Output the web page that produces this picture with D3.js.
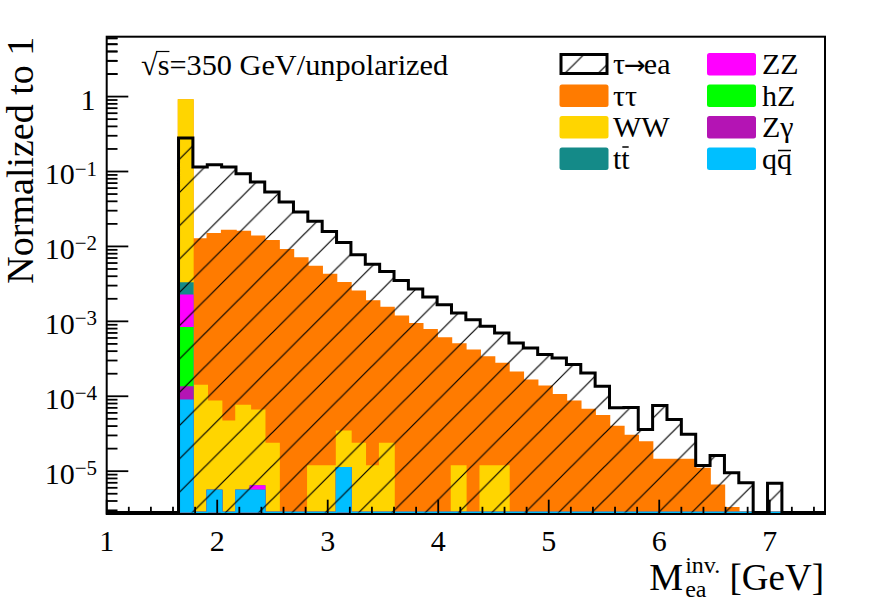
<!DOCTYPE html>
<html><head><meta charset="utf-8">
<script src="https://cdn.jsdelivr.net/npm/d3@7"></script>
<style>body{margin:0;background:#fff}</style>
</head><body>
<svg id="c" width="888" height="603"></svg>
<script>
// ---- data ----
const binEdges = [1.00,1.13,1.26,1.39,1.52,1.65,1.78,1.91,2.04,2.17,2.30,2.43,2.56,2.69,2.82,2.95,3.08,3.21,3.34,3.47,3.60,3.73,3.86,3.99,4.12,4.25,4.38,4.51,4.64,4.77,4.90,5.03,5.16,5.29,5.42,5.55,5.68,5.81,5.94,6.07,6.20,6.33,6.46,6.59,6.72,6.85,6.98,7.11,7.24,7.37,7.50];

const signal = [0,0,0,0,0, 0.279,0.1145,0.123,0.1145,0.0932, 0.0722,0.0531,0.0391,0.0288,0.0216, 0.0158,0.0113,0.00775,0.0058,0.00462, 0.00352,0.0027,0.00212,0.00167,0.00129, 0.00105,0.00086,0.00070,0.000515,0.00044, 0.00036,0.000325,0.000265,0.000205,0.000136, 0.000070,0.000071,0.000036,0.000075,0.000049, 0.000031,0.0000119,0.0000162,0.0000095,0.0000070, 0,0.0000069,0,0,0];

const tautau = [0,0,0,0,0, 0,0.0124,0.0147,0.0163,0.0158, 0.0136,0.0119,0.0090,0.0070,0.0054, 0.0042,0.00325,0.0025,0.00185,0.00151, 0.00117,0.00093,0.000775,0.00060,0.000488, 0.00041,0.000323,0.000261,0.000209,0.000163, 0.000136,0.000105,0.000086,0.0000665,0.000055, 0.0000396,0.0000300,0.0000245,0.0000143,0.0000143, 0.0000143,0.0000109,0.0000065,0.00000325,0, 0,0,0,0,0];

const ww = [0,0,0,0,0, 0.90,0.000139,0.0000805,0.0000464,0.0000695, 0.0000587,0.0000234,0,0,0.0000117, 0.0000117,0.0000229,0.0000234,0.0000117,0.0000234, 0,0,0,0,0.0000117, 0,0.0000117,0.0000117,0,0, 0,0,0,0,0, 0,0,0,0,0, 0,0,0,0,0, 0,0,0,0,0];

const ttbar = [0,0,0,0,0, 0.00103,0,0,0,0, 0,0,0,0,0, 0,0,0,0,0, 0,0,0,0,0, 0,0,0,0,0, 0,0,0,0,0, 0,0,0,0,0, 0,0,0,0,0, 0,0,0,0,0];

const zz = [0,0,0,0,0, 0.0014,0,0,0,0, 0.0000008,0,0,0,0, 0,0,0,0,0, 0,0,0,0,0, 0,0,0,0,0, 0,0,0,0,0, 0,0,0,0,0, 0,0,0,0,0, 0,0,0,0,0];

const hz = [0,0,0,0,0, 0.00069,0,0,0,0, 0,0,0,0,0, 0,0,0,0,0, 0,0,0,0,0, 0,0,0,0,0, 0,0,0,0,0, 0,0,0,0,0, 0,0,0,0,0, 0,0,0,0,0];

const zgamma = [0,0,0,0,0, 0.0000445,0,0,0,0, 0,0,0,0,0, 0,0,0,0,0, 0,0,0,0,0, 0,0,0,0,0, 0,0,0,0,0, 0,0,0,0,0, 0,0,0,0,0, 0,0,0,0,0];

const qqbar = [0,0,0,0,0, 0.0000885,0,0.00000553,0,0.00000553, 0.00000553,0,0,0,0, 0,0.0000111,0,0,0, 0,0,0,0,0, 0,0,0,0,0, 0,0,0,0,0, 0,0,0,0,0, 0,0,0,0,0, 0,0,0,0,0];

const xTickLabels = ["1","2","3","4","5","6","7"];
const yTickExps = [0,-1,-2,-3,-4,-5];

// stack order bottom -> top
const stackKeys = ["qqbar","zgamma","hz","zz","ttbar","ww","tautau"];
const seriesMap = {qqbar, zgamma, hz, zz, ttbar, ww, tautau};
const colors = {tautau:"#ff7b00", ww:"#ffd500", ttbar:"#148a88", zz:"#ff00ff", hz:"#00ff00", zgamma:"#b414b4", qqbar:"#00bfff"};

// legend entries
const legendLeft = [
  {key:"signal", label:"τ→ea"},
  {key:"tautau", label:"ττ"},
  {key:"ww", label:"WW"},
  {key:"ttbar", label:"tt", bar:1}
];
const legendRight = [
  {key:"zz", label:"ZZ"},
  {key:"hz", label:"hZ"},
  {key:"zgamma", label:"Zγ"},
  {key:"qqbar", label:"qq", bar:1}
];

// ---- layout ----
const FONT = "'Liberation Serif','Times New Roman',Times,serif";
const m = {l:106.7, r:825, t:36.7, b:512.6};
const yMin = 2.8e-6, yMax = 6.3;
const x = d3.scaleLinear().domain([1, 7.5]).range([m.l, m.r]);
const y = d3.scaleLog().domain([yMin, yMax]).range([m.b, m.t]);
const yc = v => y(Math.max(v, yMin));

const svg = d3.select("#c");
svg.append("rect").attr("width",888).attr("height",603).attr("fill","#fff");

// hatch pattern (45 deg lines, aligned to page)
const P = 33.3;
const defs = svg.append("defs");
const pat = defs.append("pattern").attr("id","hatch")
  .attr("patternUnits","userSpaceOnUse").attr("width",P).attr("height",P)
  .attr("patternTransform","translate(" + (638.3 % P).toFixed(2) + ",0)");
pat.append("path")
  .attr("d","M0," + P + " L" + P + ",0 M-2,2 L2,-2 M" + (P-2) + "," + (P+2) + " L" + (P+2) + "," + (P-2))
  .attr("stroke","#000").attr("stroke-width",1.2).attr("fill","none");

// frame background
svg.append("rect").attr("x",m.l).attr("y",m.t).attr("width",m.r-m.l).attr("height",m.b-m.t)
  .attr("fill","#fff");

// ---- stacked backgrounds ----
const rows = signal.map((_, i) => {
  const o = {};
  stackKeys.forEach(k => { o[k] = seriesMap[k][i]; });
  return o;
});
const stacked = d3.stack().keys(stackKeys)(rows);

function stepPoints(vals) {
  const pts = vals.map((v, i) => ({e: binEdges[i], v: v}));
  pts.push({e: binEdges[binEdges.length-1], v: vals[vals.length-1]});
  return pts;
}
const area = d3.area().curve(d3.curveStepAfter)
  .x(d => x(d.e)).y0(m.b).y1(d => yc(d.v));
const line = d3.line().curve(d3.curveStepAfter)
  .x(d => x(d.e)).y(d => yc(d.v));

const gStack = svg.append("g");
stacked.slice().reverse().forEach(layer => {
  const tops = layer.map(d => d[1]);
  const pts = stepPoints(tops);
  gStack.append("path").attr("d", area(pts)).attr("fill", colors[layer.key]);
  gStack.append("path").attr("d", line(pts)).attr("fill","none")
    .attr("stroke", colors[layer.key]).attr("stroke-width", 1.5);
});

// ---- signal ----
const sigPts = stepPoints(signal);
svg.append("path").attr("d", area(sigPts)).attr("fill","url(#hatch)");
svg.append("path").attr("d", line(sigPts)).attr("fill","none")
  .attr("stroke","#000").attr("stroke-width",3).attr("stroke-linejoin","miter");

// ---- axes ----
const axB = m.b + 1.4;
const gAx = svg.append("g").attr("stroke","#000").attr("stroke-width",1.8);
d3.range(0, 33).forEach(i => {
  const v = 1 + i * 0.2;
  if (v > 7.5001) return;
  const major = i % 5 === 0;
  gAx.append("line").attr("x1", x(v)).attr("x2", x(v))
    .attr("y1", axB).attr("y2", axB - (major ? 14.3 : 7.2));
});
for (let e = -6; e <= 0; e++) {
  for (let d = 1; d <= 9; d++) {
    const v = d * Math.pow(10, e);
    if (v < yMin || v > yMax) continue;
    gAx.append("line").attr("x1", m.l).attr("x2", m.l + (d === 1 ? 21.6 : 10.8))
      .attr("y1", y(v)).attr("y2", y(v));
  }
}
[2,3,4,5,6].forEach(d => {
  gAx.append("line").attr("x1", m.l).attr("x2", m.l + 10.8).attr("y1", y(d)).attr("y2", y(d));
});
svg.append("rect").attr("x",m.l).attr("y",m.t).attr("width",m.r-m.l).attr("height",axB-m.t)
  .attr("fill","none").attr("stroke","#000").attr("stroke-width",2);

// x tick labels
xTickLabels.forEach((t, i) => {
  svg.append("text").attr("x", x(i + 1)).attr("y", 551)
    .attr("text-anchor","middle").attr("font-family",FONT).attr("font-size",30).text(t);
});
// y tick labels
yTickExps.forEach(e => {
  const ty = y(Math.pow(10, e));
  if (e === 0) {
    svg.append("text").attr("x", 95.5).attr("y", ty + 13.5)
      .attr("text-anchor","end").attr("font-family",FONT).attr("font-size",30).text("1");
  } else {
    const t = svg.append("text").attr("x", 97).attr("y", ty + 12.5)
      .attr("text-anchor","end").attr("font-family",FONT).attr("font-size",30);
    t.append("tspan").text("10");
    t.append("tspan").attr("font-size",21).attr("dy",-8.5).text("−" + (-e));
  }
});

// axis titles
svg.append("text").attr("transform","translate(33,36.7) rotate(-90)")
  .attr("text-anchor","end").attr("font-family",FONT).attr("font-size",38)
  .text("Normalized to 1");

const gXT = svg.append("g").attr("font-family",FONT);
const tM = gXT.append("text").attr("font-size",38).attr("y",590).text("M");
const tSup = gXT.append("text").attr("font-size",24).attr("y",573).text("inv.");
const tSub = gXT.append("text").attr("font-size",24).attr("y",597).text("ea");
const tRest = gXT.append("text").attr("font-size",37).attr("y",590).style("white-space","pre").text("\u00a0[GeV]");
const wM = tM.node().getComputedTextLength();
const wS = Math.max(tSup.node().getComputedTextLength(), tSub.node().getComputedTextLength());
const wR = tRest.node().getComputedTextLength();
const x0 = 824 - (wM + 2 + wS + wR);
tM.attr("x", x0);
tSup.attr("x", x0 + wM + 2);
tSub.attr("x", x0 + wM + 2);
tRest.attr("x", x0 + wM + 2 + wS);

// energy label
const tE = svg.append("text").attr("x",141).attr("y",74.5)
  .attr("font-family",FONT).attr("font-size",30.3).text("√s=350 GeV/unpolarized");
{
  const r0 = tE.node().getExtentOfChar(0);
  const r1 = tE.node().getExtentOfChar(1);
  svg.append("line").attr("x1", r0.x + r0.width - 1.5).attr("x2", r1.x + r1.width)
    .attr("y1", r0.y + 4).attr("y2", r0.y + 4).attr("stroke","#000").attr("stroke-width",1.2);
}

// ---- legend ----
const rowY = [64, 95.5, 127, 158.5];
function legendCol(entries, sx, tx) {
  entries.forEach((d, i) => {
    const cy = rowY[i];
    if (d.key === "signal") {
      svg.append("rect").attr("x", sx + 1.5).attr("y", cy - 9.5).attr("width", 46).attr("height", 19)
        .attr("fill","#fff");
      svg.append("rect").attr("x", sx + 1.5).attr("y", cy - 9.5).attr("width", 46).attr("height", 19)
        .attr("fill","url(#hatch)").attr("stroke","#000").attr("stroke-width",3);
    } else {
      svg.append("rect").attr("x", sx).attr("y", cy - 11).attr("width", 49).attr("height", 22.5)
        .attr("rx", 2.5).attr("fill", colors[d.key]);
    }
    const t = svg.append("text").attr("x", tx).attr("y", cy + 10)
      .attr("font-family",FONT).attr("font-size",30);
    if (d.key === "signal") {
      t.append("tspan").text("τ");
      t.append("tspan").attr("font-family","'DejaVu Sans',sans-serif").attr("font-size",26)
        .attr("letter-spacing",-1).attr("dx",-1).text("→");
      t.append("tspan").attr("dx",-1).text("ea");
    } else {
      t.text(d.label);
    }
    if (d.bar) {
      const r = t.node().getExtentOfChar(1);
      const top = d.key === "ttbar" ? cy - 11.5 : cy - 8;
      svg.append("line").attr("x1", r.x + 1).attr("x2", r.x + r.width - 1)
        .attr("y1", top).attr("y2", top).attr("stroke","#000").attr("stroke-width",1.5);
    }
  });
}
legendCol(legendLeft, 559.5, 613);
legendCol(legendRight, 707, 762);
</script>
</body></html>
